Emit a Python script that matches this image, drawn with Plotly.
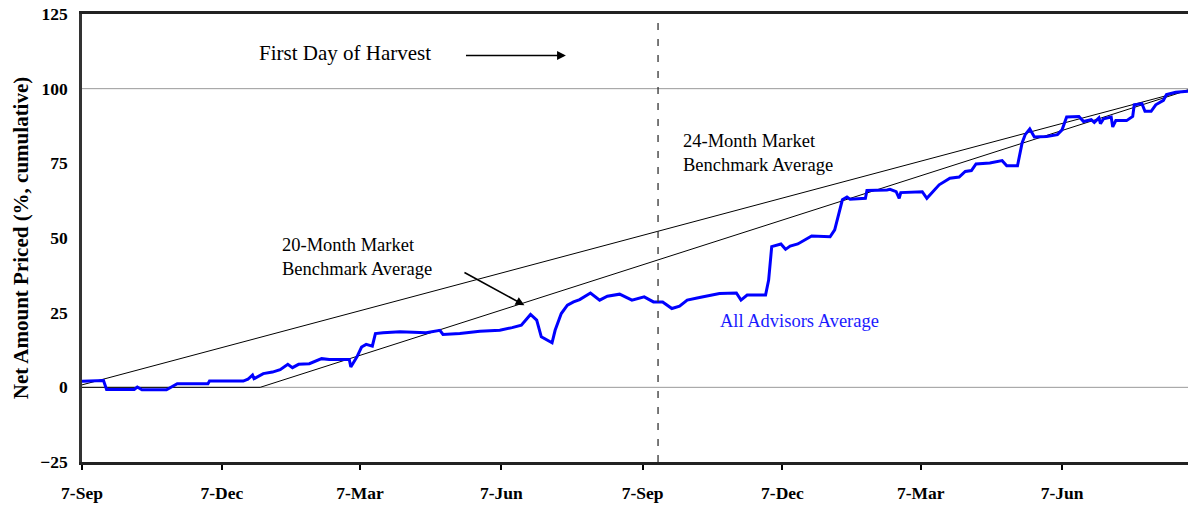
import plotly.graph_objects as go

# ---------------- data ----------------
adv_dates = [
    "2001-09-07", "2001-09-21", "2001-09-23", "2001-10-11", "2001-10-13", "2001-10-16",
    "2001-11-01", "2001-11-08", "2001-11-28", "2001-11-29", "2001-12-21", "2001-12-24",
    "2001-12-27", "2001-12-28", "2002-01-03", "2002-01-09", "2002-01-14", "2002-01-19",
    "2002-01-22", "2002-01-26", "2002-02-02", "2002-02-10", "2002-02-15", "2002-02-28",
    "2002-03-01", "2002-03-05", "2002-03-08", "2002-03-11", "2002-03-15", "2002-03-17",
    "2002-03-22", "2002-04-02", "2002-04-19", "2002-04-28", "2002-04-30", "2002-05-11",
    "2002-05-24", "2002-06-06", "2002-06-14", "2002-06-20", "2002-06-26", "2002-06-30",
    "2002-07-03", "2002-07-10", "2002-07-12", "2002-07-16", "2002-07-20", "2002-07-24",
    "2002-07-28", "2002-08-04", "2002-08-10", "2002-08-15", "2002-08-23", "2002-08-31",
    "2002-09-08", "2002-09-14", "2002-09-20", "2002-09-26", "2002-10-01", "2002-10-06",
    "2002-10-14", "2002-10-27", "2002-11-07", "2002-11-10", "2002-11-14", "2002-11-26",
    "2002-11-28", "2002-11-30", "2002-12-06", "2002-12-09", "2002-12-12", "2002-12-17",
    "2002-12-26", "2003-01-07", "2003-01-10", "2003-01-15", "2003-01-18", "2003-01-20",
    "2003-01-30", "2003-01-31", "2003-02-13", "2003-02-15", "2003-02-19", "2003-02-21",
    "2003-02-22", "2003-03-08", "2003-03-11", "2003-03-19", "2003-03-26", "2003-04-01",
    "2003-04-05", "2003-04-09", "2003-04-12", "2003-04-21", "2003-04-29", "2003-05-02",
    "2003-05-09", "2003-05-12", "2003-05-14", "2003-05-17", "2003-05-20", "2003-05-28",
    "2003-06-04", "2003-06-07", "2003-06-10", "2003-06-18", "2003-06-21", "2003-06-26",
    "2003-06-28", "2003-07-01", "2003-07-02", "2003-07-04", "2003-07-09", "2003-07-10",
    "2003-07-12", "2003-07-19", "2003-07-23", "2003-07-24", "2003-07-29", "2003-07-31",
    "2003-08-04", "2003-08-07", "2003-08-12", "2003-08-14", "2003-08-20", "2003-08-28",
]
adv_values = [
    2.0, 2.3, -0.7, -0.7, 0.1, -0.8,
    -0.8, 1.2, 1.2, 2.1, 2.1, 2.7,
    4.1, 2.9, 4.6, 5.1, 5.9, 7.7,
    6.6, 7.7, 7.9, 9.6, 9.3, 9.3,
    6.8, 10.2, 13.5, 14.4, 13.8, 18.0,
    18.3, 18.6, 18.3, 19.1, 17.7, 18.0,
    18.8, 19.1, 20.0, 20.8, 24.4, 22.5,
    16.9, 14.9, 19.1, 24.7, 27.5, 28.6,
    29.4, 31.6, 29.2, 30.5, 31.2, 29.2,
    30.3, 28.6, 28.6, 26.4, 27.2, 29.2,
    30.1, 31.4, 31.6, 29.2, 30.9, 30.9,
    35.9, 47.1, 48.0, 46.2, 47.3, 48.0,
    50.7, 50.4, 52.7, 62.8, 63.7, 63.0,
    63.3, 65.9, 66.1, 66.3, 65.5, 63.3,
    65.2, 65.5, 63.3, 67.8, 70.0, 70.4,
    72.3, 72.6, 74.8, 75.1, 75.9, 74.2,
    74.2, 81.8, 84.6, 86.5, 83.8, 84.0,
    84.6, 86.2, 90.5, 90.7, 89.0, 89.6,
    88.7, 90.2, 88.3, 89.9, 90.5, 87.2,
    89.3, 89.3, 90.7, 94.6, 95.0, 92.4,
    92.4, 94.6, 96.1, 98.0, 98.8, 99.1,
]

bench24_dates = ["2001-09-01", "2003-08-31"]
bench24_values = [0.0, 100.0]

bench20_dates = ["2001-09-07", "2002-01-01", "2003-08-31"]
bench20_values = [0.0, 0.0, 100.0]

harvest_date = "2002-09-17"
grid_levels = [0, 100]

tick_dates = ["2001-09-07", "2001-12-07", "2002-03-07", "2002-06-07",
              "2002-09-07", "2002-12-07", "2003-03-07", "2003-06-07"]
tick_labels = ["7-Sep", "7-Dec", "7-Mar", "7-Jun", "7-Sep", "7-Dec", "7-Mar", "7-Jun"]
y_ticks = [-25, 0, 25, 50, 75, 100, 125]

SERIF = "Liberation Serif"

# ---------------- figure ----------------
fig = go.Figure()

fig.add_trace(go.Scatter(x=bench24_dates, y=bench24_values, mode="lines",
                         line=dict(color="black", width=1), showlegend=False,
                         hoverinfo="skip"))
fig.add_trace(go.Scatter(x=bench20_dates, y=bench20_values, mode="lines",
                         line=dict(color="black", width=1), showlegend=False,
                         hoverinfo="skip"))
fig.add_trace(go.Scatter(x=adv_dates, y=adv_values, mode="lines",
                         line=dict(color="#0000ff", width=3), showlegend=False))

for g in grid_levels:
    fig.add_shape(type="line", xref="paper", x0=0, x1=1, yref="y", y0=g, y1=g,
                  line=dict(color="#999999", width=1), layer="below")

fig.add_shape(type="line", xref="x", x0=harvest_date, x1=harvest_date,
              yref="paper", y0=0, y1=1,
              line=dict(color="#333333", width=1.3, dash="7px,9px"))

ann_font = dict(family=SERIF, size=18.5, color="black")
fig.add_annotation(x="2001-12-30", y=112.1, xref="x", yref="y", xanchor="left",
                   yanchor="middle", text="First Day of Harvest", showarrow=False,
                   font=dict(family=SERIF, size=21, color="black"))
fig.add_annotation(x="2002-07-19", y=111.1, ax="2002-05-14", ay=111.1,
                   xref="x", yref="y", axref="x", ayref="y", text="",
                   showarrow=True, arrowhead=2, arrowsize=1.1, arrowwidth=1.6,
                   arrowcolor="black")
fig.add_annotation(x="2002-10-02", y=78.5, xref="x", yref="y", xanchor="left",
                   yanchor="middle", align="left",
                   text="24-Month Market<br>Benchmark Average", showarrow=False,
                   font=ann_font)
fig.add_annotation(x="2002-01-14", y=43.8, xref="x", yref="y", xanchor="left",
                   yanchor="middle", align="left",
                   text="20-Month Market<br>Benchmark Average", showarrow=False,
                   font=ann_font)
fig.add_annotation(x="2002-06-22", y=27.5, ax="2002-05-13", ay=38.7,
                   xref="x", yref="y", axref="x", ayref="y", text="",
                   showarrow=True, arrowhead=2, arrowsize=1.1, arrowwidth=1.6,
                   arrowcolor="black")
fig.add_annotation(x="2002-10-26", y=22.1, xref="x", yref="y", xanchor="left",
                   yanchor="middle", text="All Advisors Average", showarrow=False,
                   font=dict(family=SERIF, size=18.5, color="#1a1aff"))

fig.update_layout(
    width=1188, height=506,
    margin=dict(l=82, r=0, t=14, b=44),
    paper_bgcolor="white", plot_bgcolor="white",
    showlegend=False,
    xaxis=dict(
        type="date", automargin=False,
        range=["2001-09-07", "2003-08-28"],
        tickmode="array", tickvals=tick_dates, ticktext=tick_labels,
        ticks="outside", ticklen=5, tickwidth=1.5, tickcolor="black",
        showline=True, linecolor="#222222", linewidth=2.5, mirror=True,
        showgrid=False, zeroline=False,
        tickfont=dict(family=SERIF, size=17.5, color="black", weight="bold"),
        ticklabelstandoff=8,
    ),
    yaxis=dict(
        automargin=False,
        range=[-25, 125],
        tickmode="array", tickvals=y_ticks,
        ticks="outside", ticklen=8, tickcolor="rgba(0,0,0,0)",
        showline=True, linecolor="#333333", linewidth=2.5,
        showgrid=False, zeroline=False,
        tickfont=dict(family=SERIF, size=17.5, color="black", weight="bold"),
        title=dict(text="Net Amount Priced (%, cumulative)",
                   font=dict(family=SERIF, size=21, color="black", weight="bold"),
                   standoff=6),
    ),
)

# remove the default page margin so the figure fills the 1188x506 window exactly
fig.write_html("out.html", config={"displayModeBar": False},
               post_script="document.body.style.margin='0';")
